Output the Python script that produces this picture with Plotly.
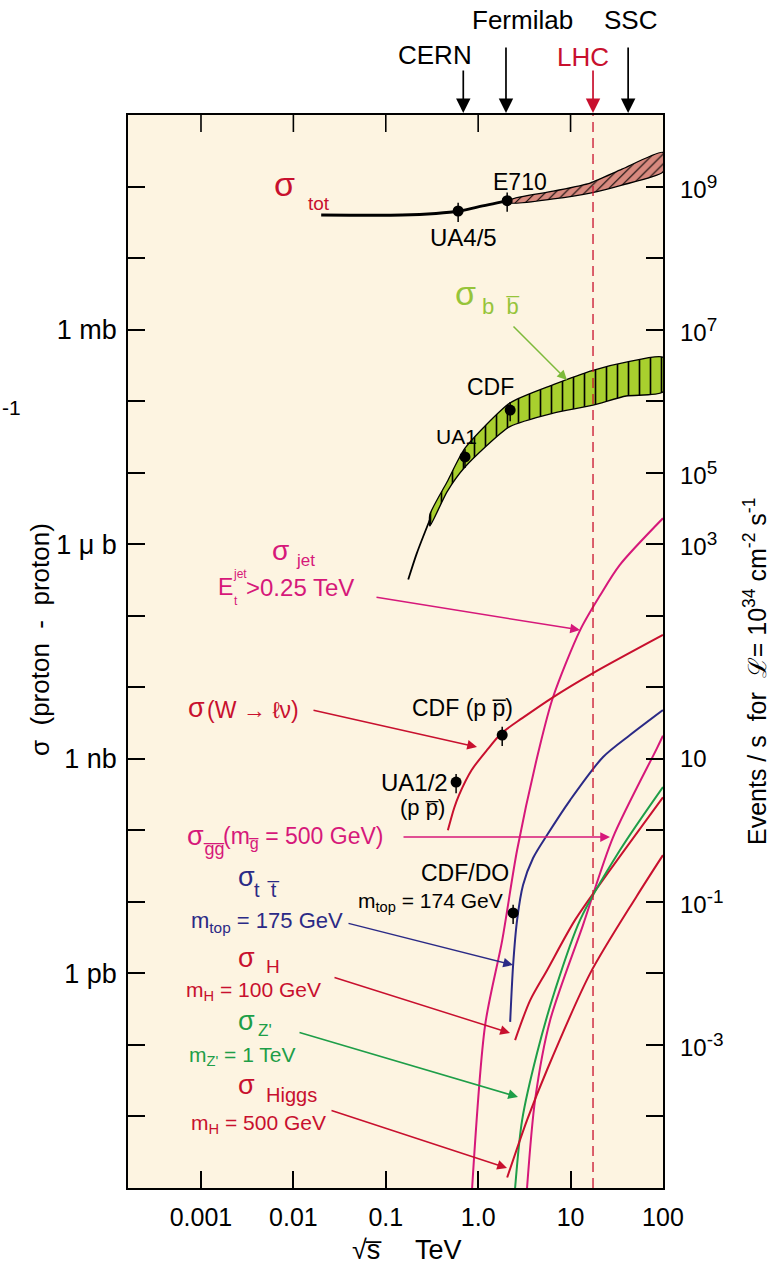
import math
import plotly.graph_objects as go

# ---------------- data (sqrt(s) in TeV, sigma in pb) ----------------
tot_line_x = [0.02, 0.15, 0.35, 0.61, 1.0, 2.06]
tot_line_y = [4.0e10, 4.0e10, 4.2e10, 4.5e10, 5.2e10, 6.3e10]
tot_band_x = [2.3, 6.5, 16.3, 36, 100]
tot_band_hi = [6.6e10, 8.6e10, 1.12e11, 1.75e11, 3.0e11]
tot_band_lo = [5.9e10, 6.7e10, 8.1e10, 1.05e11, 1.6e11]

bb_tail_x = [0.175, 0.217, 0.30]
bb_tail_y = [3.2e5, 7.5e5, 2.2e6]
bb_band_x = [0.30, 0.46, 0.72, 2.2, 6.5, 17.5, 40, 100]
bb_band_hi = [2.6e6, 7.4e6, 2.2e7, 9.4e7, 1.7e8, 2.7e8, 3.5e8, 4.1e8]
bb_band_lo = [1.8e6, 5.4e6, 1.2e7, 4.4e7, 6.8e7, 8.8e7, 1.18e8, 1.34e8]

jet_x = [0.86, 1.19, 1.82, 2.64, 4.68, 6.47, 12.7, 21, 34, 100]
jet_y = [1.0e-3, 0.19, 2.9, 53, 1.56e3, 7.3e3, 6.3e4, 1.95e5, 5.1e5, 2.3e6]

w_x = [0.47, 0.55, 0.62, 0.85, 1.25, 1.8, 3.0, 6.5, 17.5, 100]
w_y = [100, 205, 311, 697, 1330, 2290, 3700, 7.3e3, 1.58e4, 5.4e4]

tt_x = [2.22, 2.39, 2.64, 3.06, 3.93, 5.57, 9.9, 22.5, 44, 100]
tt_y = [0.21, 1.31, 5.6, 17.2, 41, 86, 265, 1060, 2150, 4800]

gg_x = [3.38, 4.13, 6.0, 13.6, 28.8, 86, 100]
gg_y = [1.0e-3, 0.017, 0.22, 4.7, 80, 1400, 2100]

h100_x = [2.51, 3.65, 5.57, 11.2, 26.8, 100]
h100_y = [0.117, 0.42, 1.11, 5.6, 28, 290]

zp_x = [2.51, 2.99, 4.34, 6.8, 12.7, 34.3, 100]
zp_y = [1.0e-3, 8.9e-3, 0.077, 0.585, 5.6, 53, 403]

h500_x = [2.06, 3.38, 5.57, 16.3, 52, 100]
h500_y = [1.4e-3, 8.9e-3, 0.045, 1.0, 12, 45]

# measured points
pts_x = [0.607, 2.06, 0.72, 2.22, 0.577, 1.82, 2.39]
pts_y = [4.55e10, 6.34e10, 1.66e7, 7.5e7, 473, 2150, 7.0]

# accelerators
acc_names = ["CERN", "Fermilab", "LHC", "SSC"]
acc_sqrts = [0.69, 2.0, 17.5, 42.0]

x_tick_vals = [0.001, 0.01, 0.1, 1.0, 10, 100]
x_tick_text = ["0.001", "0.01", "0.1", "1.0", "10", "100"]
y_tick_vals = [10.0 ** k for k in range(-2, 12)]
y_tick_text = {0: "1 pb", 3: "1 nb", 6: "1 \u03bc b", 9: "1 mb"}
# right-hand labels: events/s for L = 1e34 cm^-2 s^-1 (placed at sigma in pb)
ev_label_sigma = [1e11, 1e9, 1e7, 1e6, 1e3, 10, 0.1]
ev_label_exp = ["9", "7", "5", "3", "", "-1", "-3"]

# ---------------- style ----------------
FONT = "Liberation Sans, Arial, Helvetica, sans-serif"
RED = "#C8102E"
MAG = "#D6187A"
NAVY = "#2B2A86"
GRN = "#1E9E48"
BBG = "#A8CF2E"
BBLAB = "#96C43A"
TOTF = "#D88A7F"
BG = "#FDF4E1"

W, H = 775, 1269
L, R, T, B = 128, 663, 115, 1188
TICK = 17
XR = [-3.79, 2.0005]
YR = [-3, 12]


def pp(px, py):
    return (px - L) / (R - L), (B - py) / (B - T)


fig = go.Figure()


def band(x, lo, hi, pattern, bg, size):
    xs = list(x) + list(x)[::-1] + [x[0]]
    ys = list(hi) + list(lo)[::-1] + [hi[0]]
    fig.add_trace(go.Scatter(
        x=xs, y=ys, mode="lines", fill="toself", fillcolor=bg,
        fillpattern=dict(shape=pattern, fgcolor="black", bgcolor=bg, size=size,
                         solidity=0.15, fillmode="replace"),
        line=dict(color="black", width=1.3, shape="spline", smoothing=0.6),
        hoverinfo="skip", showlegend=False))


def curve(x, y, color, width=2.0):
    fig.add_trace(go.Scatter(x=x, y=y, mode="lines",
                             line=dict(color=color, width=width, shape="spline", smoothing=0.8),
                             hoverinfo="skip", showlegend=False))


# sigma_tot
band(tot_band_x, tot_band_lo, tot_band_hi, "/", TOTF, 7)
curve(tot_line_x, tot_line_y, "black", 3)
# sigma_bb
band(bb_band_x, bb_band_lo, bb_band_hi, "|", BBG, 11)
curve(bb_tail_x, bb_tail_y, "black", 1.8)
# other curves
curve(jet_x, jet_y, MAG)
curve(w_x, w_y, RED)
curve(tt_x, tt_y, NAVY)
curve(gg_x, gg_y, MAG)
curve(h100_x, h100_y, RED)
curve(zp_x, zp_y, GRN)
curve(h500_x, h500_y, RED)

# LHC line
fig.add_trace(go.Scatter(x=[acc_sqrts[2], acc_sqrts[2]], y=[1e-3, 1e12], mode="lines",
                         line=dict(color=RED, width=1.3, dash="10px,6px"),
                         hoverinfo="skip", showlegend=False))

# tick marks along the top frame, at the bottom-axis decades
px_per_decade_y = (B - T) / (YR[1] - YR[0])
tick_top = 10.0 ** YR[1]
tick_bot = 10.0 ** (YR[1] - TICK / px_per_decade_y)
for v in x_tick_vals[:-1]:
    fig.add_trace(go.Scatter(x=[v, v], y=[tick_top, tick_bot], mode="lines",
                             line=dict(color="black", width=1.6),
                             hoverinfo="skip", showlegend=False))

# data points
fig.add_trace(go.Scatter(x=pts_x, y=pts_y, mode="markers",
                         marker=dict(color="black", size=11),
                         error_y=dict(type="percent", value=30, color="black", thickness=1.5, width=0),
                         hoverinfo="skip", showlegend=False))

ann = []


def text(t, px, py, size=22, color="black", xanchor="left", angle=0):
    x, y = pp(px, py)
    ann.append(dict(text=t, x=x, y=y, xref="paper", yref="paper", showarrow=False,
                    xanchor=xanchor, yanchor="middle", textangle=angle,
                    font=dict(family=FONT, size=size, color=color)))


def arrow(tail, tip, color, width=1.5, size=1.3):
    x, y = pp(*tip)
    ann.append(dict(text="", x=x, y=y, xref="paper", yref="paper", showarrow=True,
                    ax=tail[0] - tip[0], ay=tail[1] - tip[1], axref="pixel", ayref="pixel",
                    arrowhead=2, arrowsize=size, arrowwidth=width, arrowcolor=color, standoff=0))


# right-hand axis labels
for s, e in zip(ev_label_sigma, ev_label_exp):
    lab = "10" + (f"<sup><span style='font-size:19px'>{e}</span></sup>" if e else "")
    ann.append(dict(text=lab, x=1 + 15 / (R - L), y=math.log10(s), xref="paper", yref="y",
                    showarrow=False, xanchor="left", yanchor="middle",
                    font=dict(family=FONT, size=24, color="black")))

# accelerator arrows on top
acc_lab_pos = [(435, 55), (522, 20), (583, 57), (630, 20)]
acc_tail_y = [68, 45, 68, 45]
acc_col = ["black", "black", RED, "black"]
for n, s, (lx, ly), ty_, c in zip(acc_names, acc_sqrts, acc_lab_pos, acc_tail_y, acc_col):
    ann.append(dict(text="", x=math.log10(s), y=1 + 2 / (B - T), xref="x", yref="paper",
                    showarrow=True, ax=0, ay=-(112 - ty_), arrowhead=2, arrowsize=1.7,
                    arrowwidth=1.7, arrowcolor=c, standoff=0))
    text(n, lx, ly, 26, c, "center")

# labels
text("\u03c3", 272, 184, 34, RED)
text("tot", 306, 203, 19, RED)
text("E710", 491, 182, 23)
text("UA4/5", 428, 237, 24)

text("\u03c3", 453, 293, 34, BBLAB)
text("b  b\u0305", 480, 307, 22, BBLAB)
arrow((512, 325), (567, 380), "#7DBA3A")
text("CDF", 465, 387, 23)
text("UA1", 434, 437, 21)

text("\u03c3", 270, 550, 28, MAG)
text("jet", 294, 560, 17, MAG)
text("E", 216, 587, 23, MAG)
text("jet", 231, 574, 12, MAG)
text("t", 232, 601, 12, MAG)
text("&gt;0.25 TeV", 244, 587, 24, MAG)
arrow((375, 597), (580, 630), MAG)

text("\u03c3", 186, 708, 27, RED)
text("(W \u2192 \u2113\u03bd)", 205, 710, 23, RED)
arrow((312, 710), (477, 747), RED)
text("CDF (p p\u0305)", 410, 708, 23)
text("UA1/2", 379, 782, 24)
text("(p p\u0305)", 398, 807, 22)

text("\u03c3", 185, 836, 27, MAG)
text("g\u0305g\u0305", 201, 849, 18, MAG)
text("(m<sub>g\u0305</sub> = 500 GeV)", 221, 837, 23, MAG)
arrow((402, 837), (610, 837), MAG)

text("CDF/DO", 465, 873, 23, "black", "center")
text("m<sub>top</sub> = 174 GeV", 356, 902, 21)
text("\u03c3", 236, 877, 27, NAVY)
text("t  t\u0305", 252, 890, 20, NAVY)
text("m<sub>top</sub> = 175 GeV", 189, 922, 22, NAVY)
arrow((347, 923), (513, 965), NAVY)

text("\u03c3", 236, 958, 27, RED)
text("H", 264, 966, 19, RED)
text("m<sub>H</sub> = 100 GeV", 184, 991, 21, RED)
arrow((333, 977), (510, 1033), RED)

text("\u03c3", 236, 1021, 27, GRN)
text("Z'", 256, 1030, 17, GRN)
text("m<sub>Z'</sub> = 1 TeV", 187, 1056, 21, GRN)
arrow((298, 1032), (518, 1097), GRN)

text("\u03c3", 236, 1085, 27, RED)
text("Higgs", 264, 1095, 20, RED)
text("m<sub>H</sub> = 500 GeV", 189, 1124, 21, RED)
arrow((330, 1110), (507, 1168), RED)

# axis titles
text("\u03c3  (proton  -  proton)", 40, 640, 26, "black", "center", -90)
text("Events / s  for  \u2112= 10<sup>34</sup> cm<sup>-2</sup> s<sup>-1</sup>", 755, 672, 25,
     "black", "center", -90)
text("\u221as\u0305", 350, 1250, 27)
text("TeV", 413, 1250, 27)
text("-1", 0, 407, 21)

fig.update_layout(
    width=W, height=H, autosize=False,
    margin=dict(l=L, r=W - R, t=T, b=H - B, pad=0),
    paper_bgcolor="white", plot_bgcolor=BG,
    font=dict(family=FONT, color="black"),
    showlegend=False,
    annotations=ann,
    xaxis=dict(type="log", range=XR, showgrid=False, zeroline=False,
               showline=True, linecolor="black", linewidth=1.5, mirror=True,
               ticks="inside", ticklen=TICK, tickwidth=1.5, tickcolor="black",
               tickvals=x_tick_vals, ticktext=x_tick_text, ticklabelstandoff=6,
               tickfont=dict(size=25, family=FONT)),
    yaxis=dict(type="log", range=YR, showgrid=False, zeroline=False,
               showline=True, linecolor="black", linewidth=1.5, mirror="allticks",
               ticks="inside", ticklen=TICK, tickwidth=1.5, tickcolor="black",
               tickvals=y_tick_vals,
               ticktext=[y_tick_text.get(k, "") for k in range(-2, 12)],
               ticklabelstandoff=4,
               tickfont=dict(size=27, family=FONT)),
)

fig.write_html("out.html")
